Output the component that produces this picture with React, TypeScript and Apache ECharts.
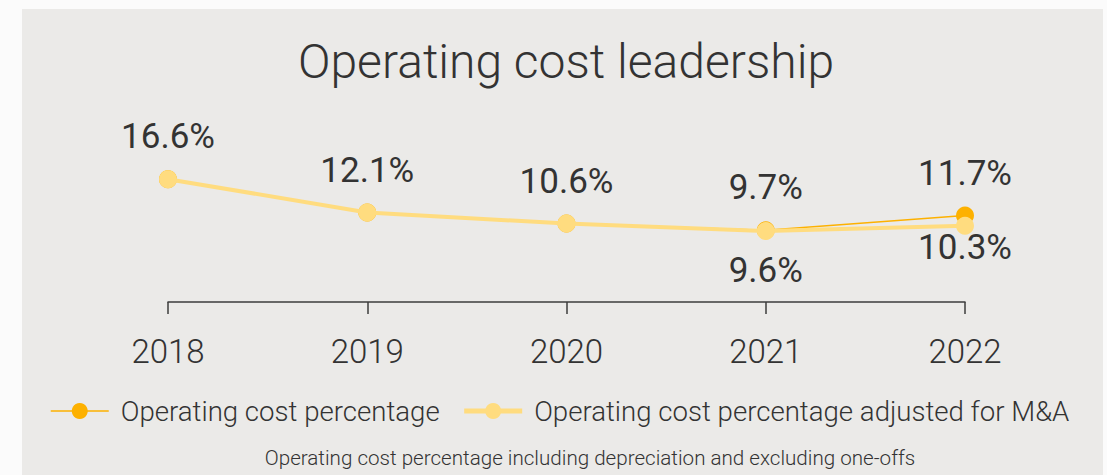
import React, { useEffect, useRef } from "react";
import * as echarts from "echarts";

const years = ["2018", "2019", "2020", "2021", "2022"];
const operatingCost = [16.6, 12.1, 10.6, 9.7, 11.7];
const operatingCostAdjusted = [16.6, 12.1, 10.6, 9.6, 10.3];
const seriesNames = ["Operating cost percentage", "Operating cost percentage adjusted for M&A"];
const titleText = "Operating cost leadership";
const footnoteText = "Operating cost percentage including depreciation and excluding one-offs";

// label placement (styles, not data)
const orangeLabelOffset = [-43, -42, -42, -43, -42];
const yellowLabelShow = [false, false, false, true, true];
const yellowLabelOffset = [0, 0, 0, 40, 22];

const ORANGE = "#fdb100";
const YELLOW = "#ffdc7f";
const TEXT = "#333333";
const FONT = "Roboto, sans-serif";

export default function App() {
  const ref = useRef<HTMLDivElement>(null);
  useEffect(() => {
    if (!ref.current) return;
    const chart = echarts.init(ref.current, undefined, { renderer: "svg" });
    const labelBase = {
      show: true,
      position: "inside",
      fontFamily: FONT,
      fontSize: 35,
      fontWeight: 400,
      color: TEXT,
      formatter: (p: any) => p.value + "%",
    };
    chart.setOption({
      animation: false,
      backgroundColor: "#fbfbfb",
      graphic: [
        { type: "rect", z: -10, shape: { x: 22, y: 9, width: 1081, height: 466 }, style: { fill: "#ebeae8" } },
        {
          type: "text",
          x: 566,
          y: 61,
          style: { text: titleText, fontFamily: FONT, fontWeight: 300, fontSize: 48, fill: TEXT, textAlign: "center", textVerticalAlign: "middle" },
        },
        {
          type: "text",
          x: 590,
          y: 458,
          style: { text: footnoteText, fontFamily: FONT, fontWeight: 300, fontSize: 20.6, fill: TEXT, textAlign: "center", textVerticalAlign: "middle" },
        },
      ],
      grid: { left: 168, right: 142, top: 154, bottom: 173 },
      xAxis: {
        type: "category",
        data: years,
        boundaryGap: false,
        axisLine: { lineStyle: { color: "#3c3c3c", width: 1.5 } },
        axisTick: { show: true, length: 12, lineStyle: { color: "#3c3c3c", width: 1.5 } },
        axisLabel: { margin: 33, fontFamily: FONT, fontWeight: 300, fontSize: 33, color: TEXT },
      },
      yAxis: { type: "value", min: 0, max: 20, show: false, splitLine: { show: false } },
      legend: {
        left: 45,
        top: 392,
        itemWidth: 58,
        itemHeight: 20,
        itemGap: 22,
        textStyle: { fontFamily: FONT, fontWeight: 300, fontSize: 27.6, color: TEXT, padding: [0, 0, 0, 7] },
        data: [
          { name: seriesNames[0], lineStyle: { width: 1.5 } },
          { name: seriesNames[1], lineStyle: { width: 5 } },
        ],
      },
      series: [
        {
          name: seriesNames[0],
          type: "line",
          z: 2,
          symbol: "circle",
          symbolSize: 18,
          lineStyle: { color: ORANGE, width: 1.5 },
          itemStyle: { color: ORANGE },
          label: labelBase,
          data: operatingCost.map((v, i) => ({ value: v, label: { offset: [0, orangeLabelOffset[i]] } })),
        },
        {
          name: seriesNames[1],
          type: "line",
          z: 3,
          symbol: "circle",
          symbolSize: 18,
          lineStyle: { color: YELLOW, width: 4 },
          itemStyle: { color: YELLOW },
          label: labelBase,
          data: operatingCostAdjusted.map((v, i) => ({
            value: v,
            label: { show: yellowLabelShow[i], offset: [0, yellowLabelOffset[i]] },
          })),
        },
      ],
    });
    return () => chart.dispose();
  }, []);
  return <div ref={ref} style={{ position: "fixed", left: 0, top: 0, width: 1107, height: 475 }} />;
}
